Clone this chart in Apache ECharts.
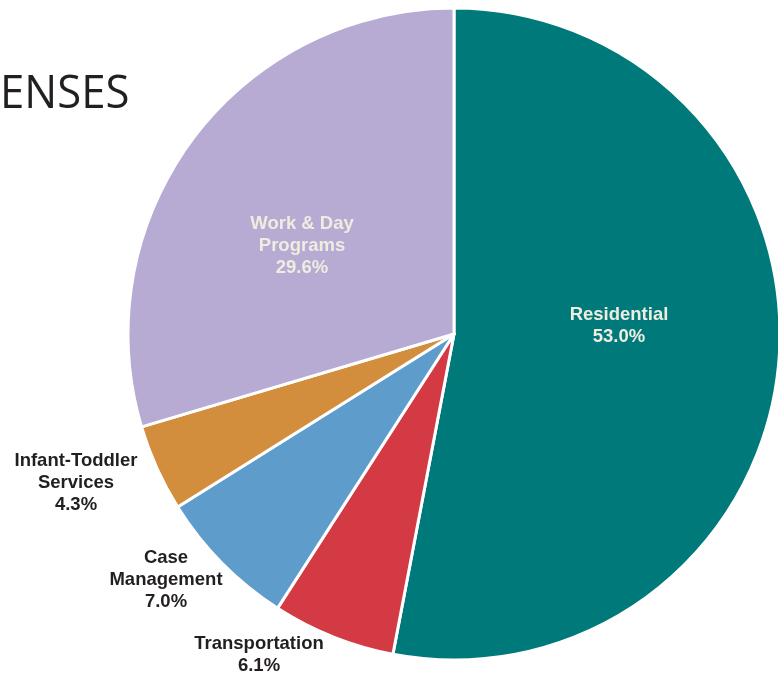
<!DOCTYPE html>
<html><head><meta charset="utf-8">
<script src="https://cdn.jsdelivr.net/npm/echarts@6/dist/echarts.min.js"></script>
<style>html,body{margin:0;padding:0;background:#fff;}#c{width:778px;height:675px;}</style>
</head><body><div id="c"></div>
<script>
const categories = ['Residential', 'Transportation', 'Case\nManagement', 'Infant-Toddler\nServices', 'Work & Day\nPrograms'];
const values = [53.0, 6.1, 7.0, 4.3, 29.6];
const colors = ['#00797a', '#d43a44', '#5e9dcb', '#d28e3c', '#b7aad3'];
const insideLabel = [true, false, false, false, true];
const labelPos = [[619, 326], [259, 655], [166, 580], [76, 483], [302, 246]];

const labelFont = {fontFamily: 'Liberation Sans', fontWeight: 'bold', fontSize: 18.5, lineHeight: 22, align: 'center'};
const chart = echarts.init(document.getElementById('c'), null, {renderer: 'canvas'});
const data = categories.map((name, i) => ({
  name, value: values[i],
  itemStyle: {color: colors[i]},
  label: Object.assign({color: insideLabel[i] ? '#efece0' : '#231f20'}, labelFont)
}));
chart.setOption({
  animation: false,
  graphic: [{
    type: 'text', left: 0, top: 72, scaleX: 0.95,
    style: {text: 'ENSES', font: '400 46px "Open Sans"', fill: '#231f20'}
  }],
  series: [{
    type: 'pie',
    center: [454, 334],
    radius: 326,
    startAngle: 90,
    clockwise: true,
    itemStyle: {borderColor: '#fff', borderWidth: 3},
    label: Object.assign({
      show: true, position: 'inside',
      formatter: p => p.name + '\n' + p.value.toFixed(1) + '%'
    }, labelFont),
    labelLine: {show: false},
    labelLayout: p => ({x: labelPos[p.dataIndex][0], y: labelPos[p.dataIndex][1], align: 'center', verticalAlign: 'middle'}),
    data
  }]
});
</script></body></html>
